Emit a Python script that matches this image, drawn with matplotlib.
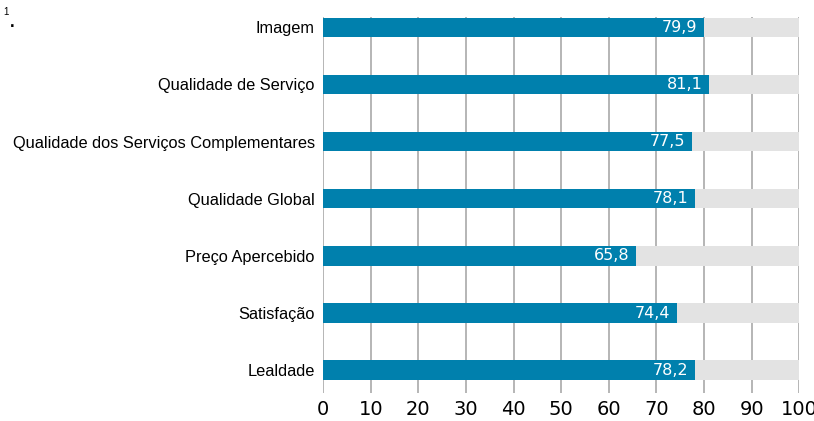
import matplotlib.pyplot as plt

categorias = ['Imagem', 'Qualidade de Serviço', 'Qualidade dos Serviços Complementares',
              'Qualidade Global', 'Preço Apercebido', 'Satisfação', 'Lealdade']
valores = [79.9, 81.1, 77.5, 78.1, 65.8, 74.4, 78.2]
maximo = 100
xticks = list(range(0, 101, 10))

plt.rcParams['font.family'] = ['Liberation Sans', 'DejaVu Sans']

fig = plt.figure(figsize=(8.14, 4.21), dpi=100)
ax = fig.add_axes([0.397, 0.0665, 0.5848, 0.8931])

pos = list(range(len(categorias)))
ax.barh(pos, [maximo] * len(pos), height=0.34, color='#e3e3e3', zorder=2)
ax.barh(pos, valores, height=0.34, color='#0080ad', zorder=3)

for p, v in zip(pos, valores):
    ax.text(v - 1.4, p, f'{v:.1f}'.replace('.', ','), ha='right', va='center',
            color='white', fontsize=11.5, family='DejaVu Sans', zorder=4)

ax.set_xlim(0, 100)
ax.set_ylim(6.4, -0.18)
ax.set_xticks(xticks)
ax.set_xticklabels([str(t) for t in xticks], family='DejaVu Sans', fontsize=14)
ax.set_yticks(pos)
ax.set_yticklabels(categorias, fontsize=11.8)
ax.tick_params(axis='x', length=0, pad=5)
ax.tick_params(axis='y', length=0, pad=6)
ax.grid(axis='x', color='#b5b5b5', linewidth=1.4, zorder=1)
ax.set_axisbelow(True)
for s in ax.spines.values():
    s.set_visible(False)

fig.text(0.004, 0.965, '1', fontsize=7)
fig.text(0.012, 0.935, '.', fontsize=12, fontweight='bold')

fig.savefig('out.png', dpi=100)
